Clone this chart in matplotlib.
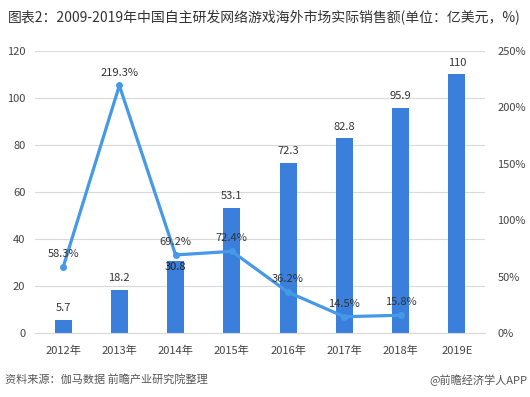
import matplotlib.pyplot as plt
import numpy as np

plt.rcParams['font.family'] = ['Noto Sans CJK SC', 'DejaVu Sans']

# data
years = ['2012年', '2013年', '2014年', '2015年', '2016年', '2017年', '2018年', '2019E']
sales = [5.7, 18.2, 30.8, 53.1, 72.3, 82.8, 95.9, 110]
growth = [58.3, 219.3, 69.2, 72.4, 36.2, 14.5, 15.8]
growth_labels = ['58.3%', '219.3%', '69.2%', '72.4%', '36.2%', '14.5%', '15.8%']

fig = plt.figure(figsize=(5.3, 3.97), dpi=100)
ax = fig.add_axes([0.066, 0.161, 0.849, 0.711])
x = np.arange(len(years))

# bars
ax.bar(x, sales, width=0.3, color='#3a7fdc', zorder=2)

ax.set_ylim(0, 120)
ax.set_yticks(range(0, 121, 20))
ax.set_xlim(-0.5, len(years) - 0.5)
ax.set_xticks(x)
ax.set_xticklabels(years, fontsize=8, color='#444444')
ax.tick_params(axis='y', labelsize=8, colors='#444444', length=0, pad=7)
ax.tick_params(axis='x', length=0, pad=9)
ax.grid(axis='y', color='#d9d9d9', linewidth=0.8, zorder=0)
for s in ['top', 'right', 'left']:
    ax.spines[s].set_visible(False)
ax.spines['bottom'].set_color('#d9d9d9')

# growth line
ax2 = ax.twinx()
ax2.plot(x[:len(growth)], growth, color='#4599e6', linewidth=2.3, marker='o', markersize=4, zorder=3)
ax2.set_ylim(0, 250)
ax2.set_yticks(range(0, 251, 50))
ax2.set_yticklabels([f'{t}%' for t in range(0, 251, 50)])
ax2.tick_params(axis='y', labelsize=8, colors='#444444', length=0, pad=9)
for s in ['top', 'right', 'left', 'bottom']:
    ax2.spines[s].set_visible(False)

# value labels on bars (drawn on ax2 so they sit above the line)
scale = 250 / 120
for i, v in enumerate(sales):
    y = v * scale
    if i < len(growth) and abs(growth[i] - y) < 20:
        # label would collide with the line: tuck it into the bar top
        ax2.text(x[i], y - 1, f'{v:g}', ha='center', va='top', fontsize=8, color='#222222', zorder=4)
    else:
        ax2.text(x[i], y + 6, f'{v:g}', ha='center', va='bottom', fontsize=8, color='#333333', zorder=4)

for i, v in enumerate(growth):
    ax2.text(x[i], v + 7, growth_labels[i], ha='center', va='bottom', fontsize=8, color='#333333', zorder=4)

fig.text(0.015, 0.955, '图表2：2009-2019年中国自主研发网络游戏海外市场实际销售额(单位：亿美元，%)',
         fontsize=10, color='#333333', va='center')
fig.text(0.01, 0.043, '资料来源：伽马数据 前瞻产业研究院整理', fontsize=8, color='#555555',
         style='italic', va='center')
fig.text(0.995, 0.043, '@前瞻经济学人APP', fontsize=8, color='#555555', ha='right', va='center')

fig.savefig('out.png', dpi=100)
